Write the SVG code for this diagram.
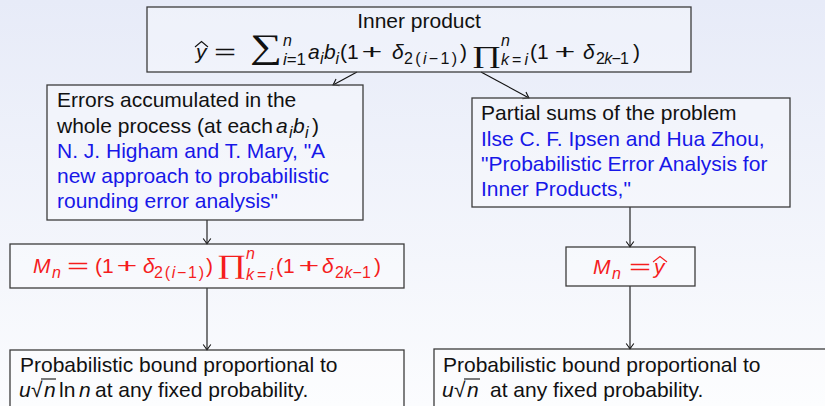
<svg xmlns="http://www.w3.org/2000/svg" width="825" height="406" viewBox="0 0 825 406">
<defs>
<linearGradient id="bg" x1="0" y1="0" x2="0" y2="1">
<stop offset="0" stop-color="#e7ebf8"/>
<stop offset="1" stop-color="#fbfcfe"/>
</linearGradient>
<marker id="ah" markerUnits="userSpaceOnUse" viewBox="-8 -5 10 10" refX="0" refY="0" markerWidth="10" markerHeight="10" orient="auto">
<path d="M-5.5,-3.8 Q-1.6,-0.9 0,0 Q-1.6,0.9 -5.5,3.8" fill="none" stroke="#111" stroke-width="1.1"/>
</marker>
<style>
.t{font-family:"Liberation Sans",Arial,sans-serif;font-size:21px;fill:#111}
.b{fill:#1717e8}
.r{fill:#f51d1d}
.i{font-style:italic}
.s{font-size:16px}
.op{font-family:"Liberation Serif","Times New Roman",serif;font-size:30px}
.box{fill:#fff;fill-opacity:.3;stroke:#3c3c3c;stroke-width:1.3}
.c{stroke:#111;stroke-width:1.1;fill:none;marker-end:url(#ah)}
.hat{fill:none;stroke-width:1.1}
</style>
</defs>
<rect width="825" height="406" fill="url(#bg)"/>

<g id="connectors">
<line class="c" x1="357" y1="72" x2="333" y2="85"/>
<line class="c" x1="481" y1="72" x2="529" y2="98"/>
<line class="c" x1="207" y1="220" x2="207" y2="244"/>
<line class="c" x1="207" y1="288" x2="207" y2="350"/>
<line class="c" x1="630" y1="207" x2="630" y2="247"/>
<line class="c" x1="630" y1="286" x2="630" y2="349"/>
</g>

<g id="inner-product">
<rect class="box" x="147" y="7" width="544" height="65"/>
<text class="t" x="419" y="28" text-anchor="middle">Inner product</text>
<text class="t i" x="196" y="59">y</text>
<polyline class="hat" stroke="#111" points="195,47 201.5,41.5 208,47"/>
<text class="t" transform="translate(225,59) scale(1.8,1)" text-anchor="middle">=</text>
<text class="t op" transform="translate(250,57.5) scale(1.5,1.15)" x="0" y="0">∑</text>
<text class="t s i" x="283" y="46">n</text>
<text class="t s" x="283" y="65" textLength="23" lengthAdjust="spacingAndGlyphs"><tspan class="i">i</tspan>=1</text>
<text class="t i" x="308" y="59">a</text>
<text class="t i s" x="320" y="64">i</text>
<text class="t i" x="324" y="59">b</text>
<text class="t i s" x="335.5" y="64">i</text>
<text class="t" x="340" y="59">(1</text>
<text class="t" transform="translate(372,59) scale(1.7,1)" text-anchor="middle">+</text>
<text class="t i" x="392" y="59">δ</text>
<text class="t s" x="404" y="64" textLength="53" lengthAdjust="spacing">2(<tspan class="i">i</tspan>−1)</text>
<text class="t" x="460" y="59">)</text>
<text class="t op" transform="translate(472,63) scale(1.2,0.8)" x="0" y="0">∏</text>
<text class="t s i" x="501" y="46">n</text>
<text class="t s" x="501" y="65" textLength="27" lengthAdjust="spacing"><tspan class="i">k</tspan>=<tspan class="i">i</tspan></text>
<text class="t" x="530" y="59">(1</text>
<text class="t" transform="translate(565,59) scale(1.7,1)" text-anchor="middle">+</text>
<text class="t i" x="583" y="59">δ</text>
<text class="t s" x="596" y="64" textLength="33" lengthAdjust="spacing">2<tspan class="i">k</tspan>−1</text>
<text class="t" x="633" y="59">)</text>
</g>

<g id="errors-accumulated">
<rect class="box" x="47" y="85" width="316" height="135"/>
<text class="t" x="57" y="107">Errors accumulated in the</text>
<text class="t" x="57" y="133">whole process (at each</text>
<text class="t i" x="276" y="133">a</text>
<text class="t i s" x="289" y="138">i</text>
<text class="t i" x="293" y="133">b</text>
<text class="t i s" x="305" y="138">i</text>
<text class="t" x="312" y="133">)</text>
<text class="t b" x="57" y="158">N. J. Higham and T. Mary, "A</text>
<text class="t b" x="57" y="183">new approach to probabilistic</text>
<text class="t b" x="57" y="208">rounding error analysis"</text>
</g>

<g id="partial-sums">
<rect class="box" x="472" y="98" width="318" height="109"/>
<text class="t" x="481" y="120">Partial sums of the problem</text>
<text class="t b" x="481" y="145.5">Ilse C. F. Ipsen and Hua Zhou,</text>
<text class="t b" x="481" y="171">"Probabilistic Error Analysis for</text>
<text class="t b" x="481" y="196">Inner Products,"</text>
</g>

<g id="mn-left">
<rect class="box" x="10" y="244" width="394" height="44"/>
<text class="t r i" x="33" y="273">M</text>
<text class="t r s i" x="52" y="278">n</text>
<text class="t r" transform="translate(78,273) scale(1.8,1)" text-anchor="middle">=</text>
<text class="t r" x="95" y="273">(1</text>
<text class="t r" transform="translate(127,273) scale(1.7,1)" text-anchor="middle">+</text>
<text class="t r i" x="143" y="273">δ</text>
<text class="t r s" x="154" y="278" textLength="50" lengthAdjust="spacing">2(<tspan class="i">i</tspan>−1)</text>
<text class="t r" x="206" y="273">)</text>
<text class="t r op" transform="translate(217,273) scale(1.2,0.88)" x="0" y="0">∏</text>
<text class="t r s i" x="246" y="259">n</text>
<text class="t r s" x="246" y="280" textLength="27" lengthAdjust="spacing"><tspan class="i">k</tspan>=<tspan class="i">i</tspan></text>
<text class="t r" x="276" y="273">(1</text>
<text class="t r" transform="translate(309,273) scale(1.7,1)" text-anchor="middle">+</text>
<text class="t r i" x="322" y="273">δ</text>
<text class="t r s" x="335" y="278" textLength="36" lengthAdjust="spacing">2<tspan class="i">k</tspan>−1</text>
<text class="t r" x="374" y="273">)</text>
</g>

<g id="mn-right">
<rect class="box" x="566" y="247" width="129" height="39"/>
<text class="t r i" x="593" y="274">M</text>
<text class="t r s i" x="612" y="279">n</text>
<text class="t r" transform="translate(640,274) scale(1.8,1)" text-anchor="middle">=</text>
<text class="t r i" x="654" y="274">y</text>
<polyline class="hat" stroke="#f51d1d" points="653,262 660,256.5 667,262"/>
</g>

<g id="bound-left">
<rect class="box" x="10" y="350" width="394" height="70"/>
<text class="t" x="20" y="372">Probabilistic bound proportional to</text>
<text class="t i" x="19" y="397">u</text>
<text class="t" x="31" y="397">√</text>
<line x1="41" y1="379" x2="56" y2="379" stroke="#111" stroke-width="1.1"/>
<text class="t i" x="44" y="397">n</text>
<text class="t" x="59" y="397">ln</text>
<text class="t i" x="79" y="397">n</text>
<text class="t" x="95" y="397">at any fixed probability.</text>
</g>

<g id="bound-right">
<rect class="box" x="434" y="349" width="400" height="70"/>
<text class="t" x="443" y="372">Probabilistic bound proportional to</text>
<text class="t i" x="442" y="397">u</text>
<text class="t" x="454" y="397">√</text>
<line x1="464" y1="379" x2="480" y2="379" stroke="#111" stroke-width="1.1"/>
<text class="t i" x="467" y="397">n</text>
<text class="t" x="490" y="397">at any fixed probability.</text>
</g>
</svg>
